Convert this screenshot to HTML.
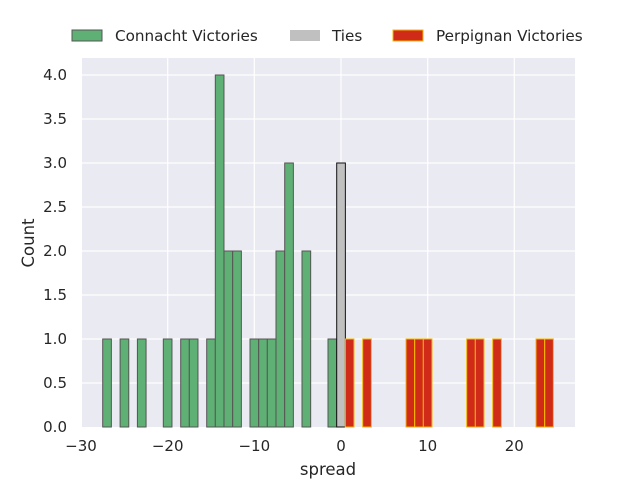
<!DOCTYPE html><html><head><style>body{margin:0;background:#fff}svg{display:block}text{font-family:"DejaVu Sans","Liberation Sans",sans-serif;fill:#262626}</style></head><body>
<svg width="640" height="480" xmlns="http://www.w3.org/2000/svg">
<rect x="82" y="58" width="493" height="369" fill="#eaeaf2"/>
<g stroke="#fff" stroke-width="1.2">
<line x1="167.7" y1="58" x2="167.7" y2="427"/><line x1="254.3" y1="58" x2="254.3" y2="427"/><line x1="341" y1="58" x2="341" y2="427"/><line x1="427.7" y1="58" x2="427.7" y2="427"/><line x1="514.3" y1="58" x2="514.3" y2="427"/>
<line x1="82" y1="383" x2="575" y2="383"/><line x1="82" y1="339" x2="575" y2="339"/><line x1="82" y1="295" x2="575" y2="295"/><line x1="82" y1="251" x2="575" y2="251"/><line x1="82" y1="207" x2="575" y2="207"/><line x1="82" y1="163" x2="575" y2="163"/><line x1="82" y1="119" x2="575" y2="119"/><line x1="82" y1="75" x2="575" y2="75"/>
</g>
<g fill="#5fb074" stroke="#555" stroke-width="1">
<rect x="102.7" y="339" width="8.67" height="88"/>
<rect x="120.1" y="339" width="8.67" height="88"/>
<rect x="137.4" y="339" width="8.67" height="88"/>
<rect x="163.3" y="339" width="8.67" height="88"/>
<rect x="180.7" y="339" width="8.67" height="88"/>
<rect x="189.3" y="339" width="8.67" height="88"/>
<rect x="206.7" y="339" width="8.67" height="88"/>
<rect x="215.3" y="75" width="8.67" height="352"/>
<rect x="224.0" y="251" width="8.67" height="176"/>
<rect x="232.7" y="251" width="8.67" height="176"/>
<rect x="250.0" y="339" width="8.67" height="88"/>
<rect x="258.7" y="339" width="8.67" height="88"/>
<rect x="267.3" y="339" width="8.67" height="88"/>
<rect x="276.0" y="251" width="8.67" height="176"/>
<rect x="284.7" y="163" width="8.67" height="264"/>
<rect x="302.0" y="251" width="8.67" height="176"/>
<rect x="328.0" y="339" width="8.67" height="88"/>
</g>
<rect x="336.7" y="163" width="8.67" height="264" fill="#c0c0c0" stroke="#111" stroke-width="1"/>
<g fill="#d02a18" stroke="#f5b800" stroke-width="1">
<rect x="345.3" y="339" width="8.67" height="88"/>
<rect x="362.7" y="339" width="8.67" height="88"/>
<rect x="406.0" y="339" width="8.67" height="88"/>
<rect x="414.7" y="339" width="8.67" height="88"/>
<rect x="423.3" y="339" width="8.67" height="88"/>
<rect x="466.7" y="339" width="8.67" height="88"/>
<rect x="475.3" y="339" width="8.67" height="88"/>
<rect x="492.7" y="339" width="8.67" height="88"/>
<rect x="536.0" y="339" width="8.67" height="88"/>
<rect x="544.7" y="339" width="8.67" height="88"/>
</g>
<g font-size="15" text-anchor="middle">
<text x="81" y="451">−30</text><text x="167.7" y="451">−20</text><text x="254.3" y="451">−10</text><text x="341" y="451">0</text><text x="427.7" y="451">10</text><text x="514.3" y="451">20</text>
<text x="328" y="475" font-size="16.5">spread</text>
</g>
<g font-size="15" text-anchor="end">
<text x="67" y="432">0.0</text><text x="67" y="388">0.5</text><text x="67" y="344">1.0</text><text x="67" y="300">1.5</text><text x="67" y="256">2.0</text><text x="67" y="212">2.5</text><text x="67" y="168">3.0</text><text x="67" y="124">3.5</text><text x="67" y="80">4.0</text>
</g>
<text transform="translate(34,243) rotate(-90)" font-size="16.5" text-anchor="middle">Count</text>
<rect x="72" y="30" width="30" height="11" fill="#5fb074" stroke="#555"/>
<text x="115" y="41" font-size="15.2">Connacht Victories</text>
<rect x="290" y="30" width="30" height="11" fill="#c0c0c0"/>
<text x="332" y="41" font-size="15.2">Ties</text>
<rect x="393" y="30" width="30" height="11" fill="#d02a18" stroke="#f5b800"/>
<text x="436" y="41" font-size="15.2">Perpignan Victories</text>
</svg>
</body></html>
